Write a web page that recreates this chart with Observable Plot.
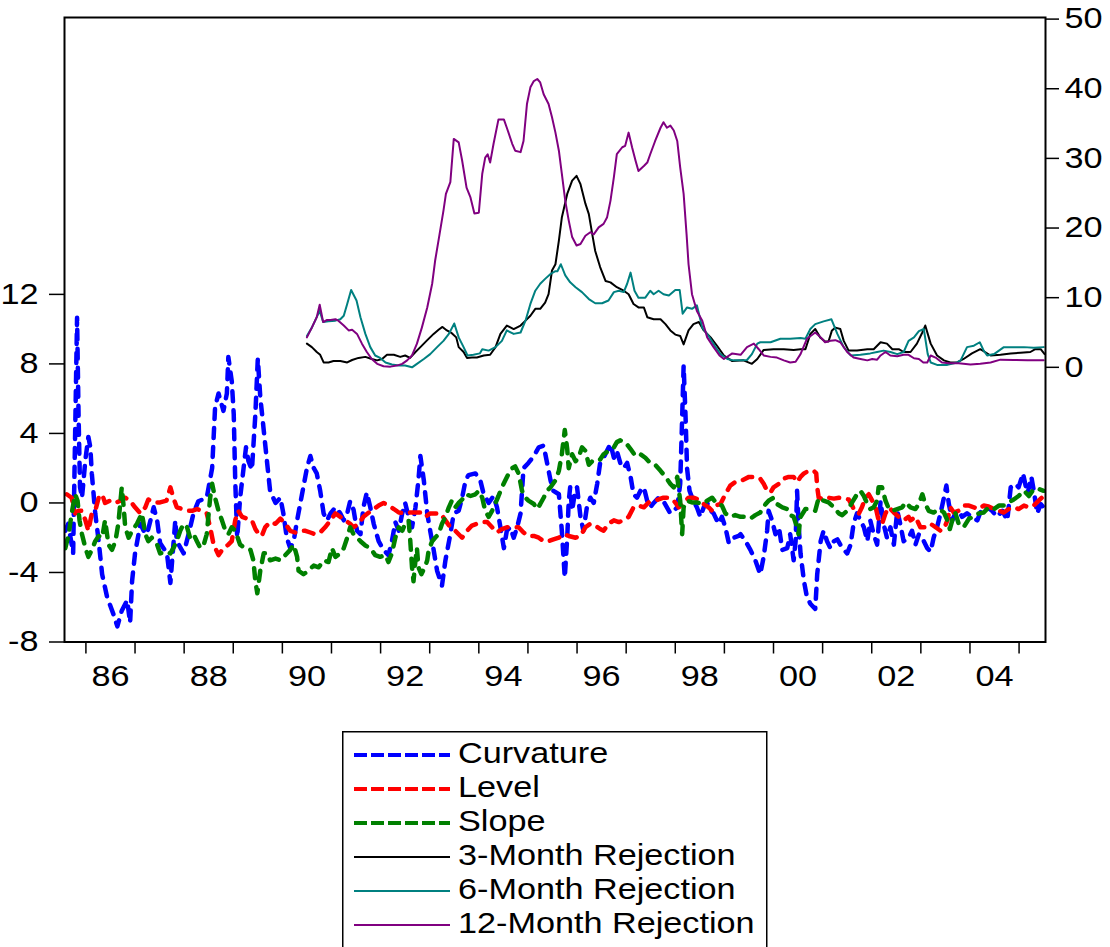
<!DOCTYPE html>
<html>
<head>
<meta charset="utf-8">
<script src="https://cdn.jsdelivr.net/npm/d3@7"></script>
<script src="https://cdn.jsdelivr.net/npm/@observablehq/plot@0.6"></script>
<style>
  html, body { margin: 0; padding: 0; background: #fff; overflow: hidden; }
  #wrap { position: relative; width: 1110px; height: 947px; }
  #legend { position: absolute; left: 342px; top: 731px; }
</style>
</head>
<body>
<div id="wrap"><div id="chart"></div><div id="legend"></div></div>
<script>
// Monthly factor series [decimal year, value], left axis
const curvature = [[1985.58,-1.6],[1985.64,-1.2],[1985.74,-2.9],[1985.76,0.5],[1985.82,10.65],[1985.85,5.1],[1985.88,0.9],[1985.92,0.3],[1985.99,2.5],[1986.05,3.8],[1986.09,3.2],[1986.12,1.7],[1986.19,-0.6],[1986.26,-2.2],[1986.33,-4.1],[1986.43,-5.4],[1986.56,-6.4],[1986.64,-7.1],[1986.73,-6.2],[1986.84,-5.6],[1986.90,-6.9],[1986.94,-4.5],[1987.00,-2.9],[1987.11,-1.2],[1987.21,-1.8],[1987.27,-1.5],[1987.38,-0.25],[1987.45,-1.0],[1987.51,-2.3],[1987.65,-2.9],[1987.72,-4.6],[1987.82,-1.0],[1987.85,-2.2],[1987.99,-2.9],[1988.09,-1.8],[1988.19,-0.6],[1988.29,0.1],[1988.46,0.3],[1988.57,2.0],[1988.63,5.5],[1988.70,6.3],[1988.80,5.3],[1988.87,6.3],[1988.90,8.4],[1988.97,7.0],[1989.01,5.1],[1989.04,1.3],[1989.08,-2.0],[1989.14,0.3],[1989.21,2.0],[1989.26,3.2],[1989.31,2.4],[1989.38,1.9],[1989.45,5.1],[1989.50,8.3],[1989.55,6.1],[1989.62,4.2],[1989.69,2.3],[1989.75,0.7],[1989.86,0.0],[1989.96,0.3],[1990.02,-0.6],[1990.09,-2.0],[1990.16,-2.6],[1990.23,-2.2],[1990.30,-1.0],[1990.40,0.5],[1990.50,2.0],[1990.57,2.7],[1990.64,2.0],[1990.70,1.7],[1990.77,0.7],[1990.84,-0.6],[1990.91,-1.0],[1990.98,-0.6],[1991.08,-0.25],[1991.18,-0.6],[1991.25,-1.0],[1991.32,-0.6],[1991.38,0.1],[1991.45,-0.4],[1991.52,-1.6],[1991.59,-1.8],[1991.65,-0.25],[1991.72,0.6],[1991.79,-0.25],[1991.86,-1.2],[1991.96,-2.2],[1992.06,-2.7],[1992.16,-3.0],[1992.23,-2.2],[1992.30,-1.1],[1992.37,-1.6],[1992.44,-0.6],[1992.50,0.0],[1992.57,-0.8],[1992.64,-1.4],[1992.71,-0.25],[1992.77,1.3],[1992.81,2.7],[1992.88,1.3],[1992.95,-0.6],[1993.01,-1.6],[1993.08,-2.7],[1993.15,-3.9],[1993.25,-4.75],[1993.32,-3.3],[1993.42,-1.8],[1993.49,-0.6],[1993.59,-0.45],[1993.66,0.3],[1993.73,1.3],[1993.79,1.6],[1993.93,1.7],[1994.03,1.3],[1994.10,0.5],[1994.20,0.0],[1994.30,0.4],[1994.37,-0.25],[1994.44,-1.4],[1994.51,-2.6],[1994.57,-1.6],[1994.64,-1.4],[1994.71,-2.0],[1994.78,-1.4],[1994.85,-0.6],[1994.91,2.0],[1995.01,2.3],[1995.12,2.7],[1995.22,3.2],[1995.32,3.3],[1995.39,2.3],[1995.46,1.3],[1995.52,0.7],[1995.63,0.5],[1995.69,-1.6],[1995.75,-4.3],[1995.80,-2.0],[1995.83,0.1],[1995.86,0.9],[1995.90,-0.45],[1995.95,0.5],[1996.00,0.9],[1996.07,-0.8],[1996.13,-1.6],[1996.20,-0.25],[1996.27,0.3],[1996.34,0.0],[1996.41,1.1],[1996.47,2.3],[1996.54,2.6],[1996.61,3.0],[1996.68,3.4],[1996.75,2.6],[1996.81,3.0],[1996.88,2.3],[1996.95,2.0],[1997.02,2.3],[1997.09,1.5],[1997.15,0.5],[1997.22,0.3],[1997.29,0.7],[1997.36,0.9],[1997.43,0.1],[1997.49,-0.25],[1997.56,0.0],[1997.66,0.3],[1997.76,0.1],[1997.83,-0.25],[1997.90,-0.6],[1997.97,-0.45],[1998.04,-0.25],[1998.10,1.1],[1998.14,4.9],[1998.17,7.9],[1998.21,4.9],[1998.24,2.0],[1998.29,0.7],[1998.37,0.1],[1998.44,-0.25],[1998.51,-0.8],[1998.58,-0.25],[1998.65,0.0],[1998.72,-0.45],[1998.78,-0.6],[1998.88,-1.2],[1998.95,-0.8],[1999.02,-1.4],[1999.09,-2.3],[1999.19,-2.0],[1999.29,-1.9],[1999.33,-1.8],[1999.43,-2.2],[1999.53,-2.7],[1999.63,-3.3],[1999.73,-4.1],[1999.80,-3.1],[1999.87,-1.6],[1999.90,-0.45],[1999.97,-1.0],[2000.04,-1.8],[2000.11,-1.4],[2000.18,-2.7],[2000.28,-2.6],[2000.34,-1.8],[2000.41,-3.3],[2000.45,-2.2],[2000.48,0.7],[2000.51,-1.2],[2000.55,-2.9],[2000.62,-4.5],[2000.68,-5.4],[2000.75,-5.8],[2000.85,-6.1],[2000.89,-4.1],[2000.96,-2.2],[2001.02,-1.6],[2001.09,-2.2],[2001.16,-2.6],[2001.23,-2.2],[2001.30,-2.1],[2001.40,-2.6],[2001.50,-2.9],[2001.57,-2.4],[2001.63,-1.2],[2001.70,-0.6],[2001.77,-1.0],[2001.84,-1.4],[2001.91,-2.2],[2001.97,-1.0],[2002.04,-1.8],[2002.11,-2.4],[2002.18,0.1],[2002.24,-1.2],[2002.31,-2.0],[2002.38,-1.4],[2002.45,-2.4],[2002.52,-0.45],[2002.58,-1.2],[2002.65,-2.2],[2002.75,-2.0],[2002.82,-1.6],[2002.89,-2.4],[2002.96,-1.8],[2003.06,-2.2],[2003.13,-2.6],[2003.20,-2.8],[2003.26,-2.0],[2003.33,-1.4],[2003.40,-0.6],[2003.47,0.3],[2003.52,1.0],[2003.57,-0.06],[2003.64,-1.0],[2003.70,-0.6],[2003.77,-0.45],[2003.84,-0.8],[2003.94,-0.6],[2004.04,-0.8],[2004.15,-1.0],[2004.25,-0.25],[2004.35,-0.25],[2004.45,-0.45],[2004.55,-0.8],[2004.66,-0.45],[2004.76,-1.0],[2004.83,0.9],[2004.93,1.1],[2004.99,0.9],[2005.08,1.7],[2005.17,0.5],[2005.25,1.5],[2005.30,0.7],[2005.37,-0.6],[2005.44,-0.06],[2005.50,-0.25]];

const level = [[1985.61,0.5],[1985.71,0.3],[1985.78,-0.6],[1985.85,-0.45],[1985.92,-0.45],[1985.99,-1.0],[1986.05,-1.6],[1986.12,-0.6],[1986.19,-0.45],[1986.26,0.3],[1986.33,0.5],[1986.39,0.0],[1986.49,0.13],[1986.60,0.0],[1986.70,0.13],[1986.80,0.3],[1986.90,0.13],[1987.00,-0.25],[1987.11,-0.6],[1987.21,-0.25],[1987.27,0.2],[1987.38,0.03],[1987.51,0.03],[1987.64,0.13],[1987.72,0.9],[1987.78,0.3],[1987.85,-0.25],[1987.96,-0.35],[1988.06,-0.45],[1988.16,-0.45],[1988.26,-0.35],[1988.36,-0.45],[1988.46,-0.6],[1988.53,-1.4],[1988.60,-2.4],[1988.70,-3.0],[1988.80,-2.6],[1988.90,-2.4],[1988.97,-2.2],[1989.04,-1.0],[1989.10,-0.45],[1989.18,-0.8],[1989.28,-0.9],[1989.38,-1.0],[1989.45,-1.5],[1989.52,-1.8],[1989.58,-1.9],[1989.65,-1.4],[1989.75,-1.1],[1989.86,-1.2],[1989.96,-0.9],[1990.06,-1.2],[1990.16,-1.6],[1990.26,-1.7],[1990.37,-1.6],[1990.47,-1.6],[1990.57,-1.7],[1990.67,-1.8],[1990.77,-1.7],[1990.87,-1.4],[1990.98,-1.0],[1991.08,-0.6],[1991.18,-0.8],[1991.28,-1.0],[1991.38,-1.2],[1991.45,-1.4],[1991.55,-1.2],[1991.65,-0.8],[1991.76,-0.55],[1991.86,-0.35],[1991.96,-0.15],[1992.06,0.0],[1992.16,-0.15],[1992.27,-0.35],[1992.37,-0.55],[1992.50,-0.6],[1992.60,-0.55],[1992.71,-0.55],[1992.81,-0.55],[1992.91,-0.8],[1993.01,-0.6],[1993.11,-0.6],[1993.22,-0.6],[1993.32,-1.0],[1993.42,-1.4],[1993.52,-1.6],[1993.66,-2.0],[1993.76,-1.6],[1993.86,-1.3],[1993.96,-1.2],[1994.07,-1.1],[1994.17,-1.1],[1994.27,-1.4],[1994.37,-1.7],[1994.47,-1.5],[1994.57,-1.4],[1994.71,-1.4],[1994.81,-1.4],[1994.91,-1.7],[1995.01,-1.9],[1995.12,-1.9],[1995.22,-2.0],[1995.32,-2.2],[1995.42,-2.2],[1995.52,-2.1],[1995.63,-2.0],[1995.73,-1.8],[1995.83,-1.9],[1995.97,-2.0],[1996.07,-1.9],[1996.17,-1.4],[1996.27,-1.2],[1996.37,-1.3],[1996.47,-1.5],[1996.54,-1.6],[1996.64,-1.2],[1996.75,-1.0],[1996.85,-1.1],[1996.95,-1.0],[1997.05,-0.8],[1997.15,-0.25],[1997.25,-0.15],[1997.36,-0.25],[1997.46,0.03],[1997.56,0.13],[1997.66,0.2],[1997.76,0.3],[1997.87,0.3],[1997.97,0.13],[1998.07,-0.25],[1998.17,0.03],[1998.27,0.3],[1998.37,0.3],[1998.48,0.2],[1998.58,-0.06],[1998.68,-0.25],[1998.75,-0.45],[1998.82,-0.15],[1998.92,-0.06],[1999.02,0.5],[1999.12,1.0],[1999.22,1.2],[1999.36,1.3],[1999.50,1.5],[1999.63,1.5],[1999.73,1.4],[1999.80,1.1],[1999.87,0.7],[1999.94,0.6],[2000.00,0.9],[2000.11,1.1],[2000.21,1.4],[2000.31,1.5],[2000.41,1.5],[2000.48,1.2],[2000.55,1.5],[2000.62,1.7],[2000.72,1.85],[2000.82,1.85],[2000.87,1.7],[2000.89,0.9],[2000.92,0.3],[2001.02,0.2],[2001.12,0.3],[2001.23,0.25],[2001.33,0.3],[2001.43,0.25],[2001.53,0.2],[2001.60,-0.15],[2001.67,-0.55],[2001.74,-0.6],[2001.80,-0.25],[2001.87,0.3],[2001.94,0.5],[2002.01,0.13],[2002.08,-0.25],[2002.14,-1.0],[2002.21,-1.2],[2002.28,-0.6],[2002.35,-0.25],[2002.45,-0.55],[2002.55,-0.8],[2002.65,-1.0],[2002.75,-0.8],[2002.79,-1.0],[2002.89,-0.8],[2002.99,-1.4],[2003.09,-1.4],[2003.20,-1.2],[2003.30,-1.4],[2003.40,-1.6],[2003.47,-1.5],[2003.54,-1.0],[2003.60,-0.25],[2003.67,-0.55],[2003.77,-0.45],[2003.87,-0.15],[2003.98,-0.15],[2004.08,-0.25],[2004.18,-0.35],[2004.28,-0.15],[2004.38,-0.2],[2004.49,-0.35],[2004.59,-0.45],[2004.69,-0.55],[2004.79,-0.35],[2004.89,-0.25],[2004.99,-0.35],[2005.10,-0.15],[2005.20,-0.25],[2005.30,-0.15],[2005.40,0.13],[2005.50,0.4]];

const slope = [[1985.58,-2.6],[1985.65,-1.8],[1985.71,-0.6],[1985.78,0.5],[1985.83,0.13],[1985.87,-1.0],[1985.92,-1.8],[1985.99,-2.6],[1986.05,-3.1],[1986.12,-2.7],[1986.19,-2.2],[1986.26,-1.9],[1986.33,-2.0],[1986.39,-1.0],[1986.46,-2.4],[1986.53,-2.7],[1986.60,-2.2],[1986.66,-1.2],[1986.73,0.9],[1986.77,-0.25],[1986.80,-1.4],[1986.87,-2.0],[1986.94,-1.6],[1987.04,-1.2],[1987.14,-0.6],[1987.21,-1.8],[1987.27,-2.2],[1987.34,-2.0],[1987.45,-2.4],[1987.51,-2.9],[1987.62,-2.8],[1987.72,-2.9],[1987.78,-2.6],[1987.85,-2.2],[1987.92,-1.6],[1987.99,-1.2],[1988.06,-1.4],[1988.12,-2.0],[1988.19,-1.8],[1988.26,-2.2],[1988.33,-2.6],[1988.40,-2.4],[1988.46,-1.8],[1988.53,0.3],[1988.57,1.1],[1988.63,0.3],[1988.70,-0.45],[1988.77,-1.0],[1988.84,-1.6],[1988.90,-1.8],[1988.97,-1.4],[1989.04,-1.6],[1989.14,-2.4],[1989.24,-2.6],[1989.35,-2.7],[1989.41,-3.3],[1989.45,-4.5],[1989.49,-5.2],[1989.55,-3.9],[1989.62,-2.9],[1989.69,-2.9],[1989.75,-3.3],[1989.86,-3.2],[1989.96,-3.3],[1990.06,-3.0],[1990.16,-2.7],[1990.23,-2.4],[1990.30,-3.1],[1990.33,-3.9],[1990.43,-4.1],[1990.53,-3.9],[1990.64,-3.6],[1990.74,-3.7],[1990.84,-3.3],[1990.94,-3.4],[1991.01,-2.6],[1991.08,-3.1],[1991.18,-2.9],[1991.25,-2.6],[1991.32,-2.0],[1991.38,-1.4],[1991.45,-1.8],[1991.52,-2.0],[1991.59,-2.2],[1991.69,-2.45],[1991.79,-2.6],[1991.89,-3.0],[1991.99,-3.1],[1992.10,-3.0],[1992.16,-3.4],[1992.23,-2.9],[1992.30,-2.0],[1992.37,-1.4],[1992.44,-1.6],[1992.50,-1.2],[1992.57,-1.0],[1992.60,-2.0],[1992.64,-3.7],[1992.67,-4.5],[1992.71,-3.3],[1992.74,-2.6],[1992.77,-3.7],[1992.83,-4.1],[1992.90,-3.7],[1992.95,-3.3],[1992.98,-2.7],[1993.05,-2.2],[1993.11,-2.0],[1993.18,-1.8],[1993.25,-1.2],[1993.32,-0.8],[1993.39,-0.25],[1993.45,0.13],[1993.52,-0.25],[1993.59,0.0],[1993.66,0.2],[1993.73,0.5],[1993.83,0.4],[1993.93,0.5],[1994.00,0.7],[1994.07,0.3],[1994.13,-0.45],[1994.20,-0.8],[1994.27,-0.45],[1994.34,0.0],[1994.40,0.4],[1994.47,0.9],[1994.54,1.3],[1994.61,1.7],[1994.68,2.0],[1994.74,2.1],[1994.81,1.7],[1994.88,0.7],[1994.95,0.3],[1995.01,0.13],[1995.12,-0.06],[1995.19,-0.35],[1995.25,-0.06],[1995.32,0.3],[1995.39,0.7],[1995.46,0.9],[1995.56,1.3],[1995.63,1.85],[1995.69,2.8],[1995.75,4.2],[1995.80,3.1],[1995.83,2.0],[1995.90,2.8],[1995.97,2.4],[1996.03,2.6],[1996.10,3.2],[1996.17,3.0],[1996.24,2.2],[1996.31,2.4],[1996.41,2.4],[1996.47,2.5],[1996.54,2.8],[1996.64,3.0],[1996.75,3.2],[1996.81,3.5],[1996.88,3.6],[1996.98,3.5],[1997.09,3.1],[1997.19,2.7],[1997.29,2.8],[1997.39,2.6],[1997.49,2.3],[1997.59,2.2],[1997.70,1.85],[1997.80,1.5],[1997.90,1.1],[1997.97,0.9],[1998.04,1.5],[1998.10,0.13],[1998.14,-1.8],[1998.17,-0.25],[1998.24,0.13],[1998.34,0.03],[1998.44,0.03],[1998.55,-0.06],[1998.65,0.13],[1998.75,0.3],[1998.85,-0.06],[1998.95,-0.15],[1999.02,-0.6],[1999.12,-0.8],[1999.22,-0.7],[1999.33,-0.8],[1999.43,-0.8],[1999.53,-0.9],[1999.63,-0.7],[1999.73,-0.55],[1999.84,-0.06],[1999.90,0.13],[2000.00,0.3],[2000.07,-0.06],[2000.18,-0.25],[2000.28,-0.35],[2000.34,-0.7],[2000.41,-0.8],[2000.48,-1.4],[2000.51,-1.8],[2000.55,-0.8],[2000.65,-0.35],[2000.75,-0.35],[2000.85,-0.45],[2000.92,0.3],[2001.02,0.13],[2001.12,0.03],[2001.23,-0.25],[2001.33,-0.6],[2001.40,-0.7],[2001.50,-0.45],[2001.60,0.03],[2001.70,0.5],[2001.77,0.7],[2001.84,0.4],[2001.91,-0.06],[2001.97,-0.35],[2002.04,-0.25],[2002.11,0.13],[2002.14,0.9],[2002.21,0.9],[2002.28,0.13],[2002.35,-0.35],[2002.42,-0.45],[2002.52,-0.35],[2002.62,-0.25],[2002.69,0.03],[2002.79,-0.25],[2002.89,-0.35],[2002.96,-0.06],[2003.03,0.5],[2003.09,-0.06],[2003.16,-0.45],[2003.26,-0.55],[2003.37,-0.35],[2003.47,-0.55],[2003.54,-1.0],[2003.59,-1.5],[2003.64,-1.0],[2003.70,-0.55],[2003.77,-1.2],[2003.87,-1.4],[2003.98,-0.9],[2004.08,-0.8],[2004.18,-0.6],[2004.28,-0.55],[2004.38,-0.25],[2004.49,-0.35],[2004.59,-0.15],[2004.69,-0.15],[2004.79,0.03],[2004.89,0.2],[2004.99,0.4],[2005.10,0.7],[2005.20,0.4],[2005.30,0.8],[2005.40,0.8],[2005.50,0.7]];

// Rejection frequencies [decimal year, value], right axis
const rej3 = [[1990.50,3.4],[1990.60,2.9],[1990.70,2.2],[1990.77,1.8],[1990.84,0.7],[1990.94,0.7],[1991.04,0.9],[1991.18,0.9],[1991.32,0.7],[1991.42,1.05],[1991.55,1.35],[1991.69,1.5],[1991.82,1.2],[1991.93,1.0],[1992.03,1.2],[1992.13,1.8],[1992.27,1.8],[1992.40,1.5],[1992.50,1.7],[1992.60,1.35],[1992.71,2.2],[1992.81,2.9],[1992.95,3.9],[1993.08,4.8],[1993.18,5.4],[1993.26,5.8],[1993.35,5.3],[1993.45,4.9],[1993.54,4.3],[1993.59,2.9],[1993.69,2.2],[1993.76,1.35],[1993.86,1.4],[1993.96,1.4],[1994.10,1.7],[1994.23,1.8],[1994.34,2.9],[1994.44,4.8],[1994.57,6.0],[1994.71,5.5],[1994.85,6.0],[1994.95,6.7],[1995.05,7.4],[1995.15,8.4],[1995.25,8.4],[1995.35,9.3],[1995.42,10.5],[1995.49,13.9],[1995.56,14.8],[1995.63,18.2],[1995.69,21.5],[1995.80,24.9],[1995.90,26.8],[1995.99,27.5],[1996.07,26.3],[1996.17,23.5],[1996.24,22.0],[1996.31,19.1],[1996.37,16.7],[1996.47,14.4],[1996.58,12.4],[1996.68,12.2],[1996.81,11.5],[1996.95,11.0],[1997.05,10.5],[1997.15,9.1],[1997.25,8.6],[1997.36,8.6],[1997.43,7.2],[1997.56,6.9],[1997.70,6.9],[1997.80,6.2],[1997.90,5.3],[1998.00,4.7],[1998.10,4.5],[1998.17,3.3],[1998.27,5.3],[1998.37,6.2],[1998.48,6.5],[1998.58,5.3],[1998.72,4.3],[1998.85,3.1],[1998.99,1.7],[1999.16,0.9],[1999.39,1.0],[1999.56,0.5],[1999.67,1.2],[1999.80,2.5],[2000.00,2.6],[2000.21,2.6],[2000.41,2.5],[2000.55,2.6],[2000.65,2.6],[2000.75,4.8],[2000.85,5.5],[2000.95,4.3],[2001.05,3.7],[2001.12,3.7],[2001.19,5.3],[2001.26,5.7],[2001.36,5.5],[2001.43,3.8],[2001.53,2.4],[2001.70,2.4],[2001.91,2.6],[2002.04,2.6],[2002.18,3.6],[2002.31,3.4],[2002.42,2.6],[2002.55,2.6],[2002.65,2.2],[2002.79,2.2],[2002.92,3.4],[2003.03,5.0],[2003.09,6.0],[2003.20,3.4],[2003.33,1.7],[2003.47,1.0],[2003.60,0.7],[2003.74,0.7],[2003.87,1.2],[2004.04,2.0],[2004.21,2.6],[2004.42,1.7],[2004.62,1.8],[2004.83,2.0],[2005.03,2.1],[2005.23,2.2],[2005.33,2.6],[2005.44,2.6],[2005.52,1.9]];

const rej6 = [[1990.50,4.5],[1990.60,5.7],[1990.70,7.2],[1990.76,8.1],[1990.83,6.5],[1990.94,6.6],[1991.08,6.7],[1991.18,6.9],[1991.25,7.4],[1991.32,9.1],[1991.40,11.1],[1991.51,9.6],[1991.59,7.2],[1991.69,4.8],[1991.79,2.9],[1991.89,1.7],[1991.99,1.35],[1992.10,0.7],[1992.23,0.4],[1992.37,0.25],[1992.50,0.25],[1992.64,0.0],[1992.74,0.5],[1992.88,1.2],[1993.01,1.9],[1993.15,2.9],[1993.28,3.8],[1993.39,4.8],[1993.50,6.3],[1993.59,4.3],[1993.69,2.9],[1993.77,1.7],[1993.89,1.8],[1994.02,2.0],[1994.07,2.6],[1994.20,2.4],[1994.34,2.9],[1994.47,3.8],[1994.57,5.3],[1994.71,4.8],[1994.85,5.0],[1994.95,6.7],[1995.05,9.1],[1995.15,11.0],[1995.25,12.0],[1995.35,12.7],[1995.46,13.4],[1995.56,13.8],[1995.60,13.8],[1995.67,14.8],[1995.76,13.2],[1995.86,12.2],[1995.97,11.5],[1996.10,10.8],[1996.24,9.8],[1996.37,9.2],[1996.51,9.2],[1996.64,9.6],[1996.75,10.8],[1996.85,11.0],[1996.95,10.8],[1997.02,12.0],[1997.09,13.6],[1997.17,11.0],[1997.25,10.0],[1997.39,10.0],[1997.49,11.0],[1997.56,10.5],[1997.66,11.0],[1997.76,10.5],[1997.87,10.3],[1998.00,11.1],[1998.09,11.1],[1998.15,7.7],[1998.24,8.6],[1998.34,8.4],[1998.44,8.9],[1998.55,5.7],[1998.68,4.5],[1998.82,2.9],[1998.92,1.9],[1999.06,1.2],[1999.19,1.0],[1999.33,1.0],[1999.46,1.05],[1999.56,1.9],[1999.67,3.4],[1999.73,3.6],[1999.94,3.6],[2000.14,4.1],[2000.34,4.1],[2000.55,4.2],[2000.65,4.1],[2000.75,5.5],[2000.85,6.2],[2001.02,6.6],[2001.18,6.9],[2001.30,4.8],[2001.43,2.9],[2001.57,1.7],[2001.77,1.8],[2001.97,2.0],[2002.11,2.2],[2002.24,2.4],[2002.38,2.2],[2002.52,1.9],[2002.65,2.2],[2002.75,3.8],[2002.86,4.3],[2002.96,5.2],[2003.06,5.5],[2003.14,1.9],[2003.20,0.7],[2003.33,0.35],[2003.54,0.35],[2003.74,0.7],[2003.81,1.0],[2003.94,2.9],[2004.08,3.1],[2004.20,3.6],[2004.28,2.4],[2004.35,1.7],[2004.49,1.9],[2004.69,2.9],[2004.89,2.9],[2005.10,2.9],[2005.30,2.8],[2005.50,2.9]];

const rej12 = [[1990.50,4.3],[1990.60,5.7],[1990.70,7.2],[1990.76,9.0],[1990.83,6.5],[1990.91,6.8],[1990.98,6.8],[1991.08,6.9],[1991.14,6.7],[1991.25,6.0],[1991.35,5.3],[1991.42,5.4],[1991.52,4.8],[1991.62,3.4],[1991.72,2.2],[1991.82,1.2],[1991.93,0.5],[1992.06,0.15],[1992.20,0.1],[1992.33,0.25],[1992.44,0.5],[1992.54,1.0],[1992.64,1.7],[1992.74,3.4],[1992.84,5.7],[1992.95,8.6],[1993.05,12.0],[1993.11,15.3],[1993.20,19.1],[1993.28,22.5],[1993.33,24.9],[1993.42,26.6],[1993.49,32.8],[1993.59,32.3],[1993.66,29.7],[1993.75,25.8],[1993.83,24.4],[1993.91,22.1],[1994.00,22.2],[1994.07,27.8],[1994.13,30.1],[1994.18,30.6],[1994.23,29.4],[1994.30,32.1],[1994.40,35.6],[1994.51,35.6],[1994.57,34.4],[1994.68,32.1],[1994.74,31.1],[1994.85,30.9],[1994.91,32.5],[1994.98,37.8],[1995.05,40.2],[1995.12,41.1],[1995.19,41.4],[1995.25,40.9],[1995.32,39.2],[1995.42,37.8],[1995.49,35.9],[1995.56,33.7],[1995.63,31.1],[1995.69,27.8],[1995.76,23.9],[1995.83,21.1],[1995.90,18.7],[1995.99,17.5],[1996.07,17.7],[1996.17,18.9],[1996.27,19.4],[1996.34,19.1],[1996.44,20.1],[1996.54,20.6],[1996.61,21.5],[1996.68,23.9],[1996.75,27.3],[1996.81,30.6],[1996.92,31.6],[1996.98,31.8],[1997.05,33.7],[1997.12,31.6],[1997.19,29.7],[1997.25,28.2],[1997.36,28.9],[1997.43,29.4],[1997.49,30.6],[1997.59,32.5],[1997.70,34.4],[1997.76,35.2],[1997.83,34.4],[1997.90,34.7],[1997.97,34.0],[1998.04,32.5],[1998.10,28.7],[1998.17,24.9],[1998.23,19.1],[1998.27,14.8],[1998.34,10.5],[1998.44,8.1],[1998.55,6.7],[1998.65,4.3],[1998.78,2.9],[1998.90,1.7],[1998.99,1.2],[1999.16,2.0],[1999.33,1.8],[1999.46,2.9],[1999.60,3.4],[1999.70,2.6],[1999.80,1.7],[1999.94,1.5],[2000.07,1.4],[2000.21,1.0],[2000.34,0.7],[2000.45,0.8],[2000.55,1.9],[2000.68,4.1],[2000.85,5.0],[2000.96,4.3],[2001.05,3.6],[2001.16,3.8],[2001.26,3.9],[2001.36,3.6],[2001.50,2.2],[2001.63,1.4],[2001.77,1.2],[2001.91,1.0],[2002.01,1.2],[2002.11,1.1],[2002.18,1.7],[2002.28,2.2],[2002.38,1.7],[2002.52,1.6],[2002.65,1.8],[2002.75,1.8],[2002.86,1.3],[2002.96,1.2],[2003.05,0.7],[2003.13,0.7],[2003.20,1.7],[2003.30,1.4],[2003.43,0.7],[2003.57,0.6],[2003.77,0.6],[2004.01,0.4],[2004.21,0.5],[2004.42,0.7],[2004.62,1.1],[2004.89,1.05],[2005.17,1.0],[2005.50,1.0]];

const leftTicks = [-8, -4, 0, 4, 8, 12];
const rightTicks = [0, 10, 20, 30, 40, 50];
const yearTicks = d3.range(1986, 2006);
const yearLabels = [1986, 1988, 1990, 1992, 1994, 1996, 1998, 2000, 2002, 2004];
const seriesNames = ["Curvature", "Level", "Slope", "3-Month Rejection", "6-Month Rejection", "12-Month Rejection"];
const seriesColors = ["#0000ff", "#ff0000", "#008000", "#000000", "#008080", "#800080"];

// The two vertical scales share one pixel range; right-axis values are mapped into left units
const leftDomain = [-8, 27.93];
const rightDomain = [-39.44, 50.23];
const kLR = (leftDomain[1] - leftDomain[0]) / (rightDomain[1] - rightDomain[0]);
const toLeft = r => leftDomain[0] + (r - rightDomain[0]) * kLR;
const toRight = v => rightDomain[0] + (v - leftDomain[0]) / kLR;

const FONT = "'Liberation Sans', Arial, Helvetica, sans-serif";
const WIDEN = 1.18;
const DASH = "10,9";

const dashed = (data, color) => Plot.line(data, {
  x: d => d[0], y: d => d[1], stroke: color, strokeWidth: 4.5,
  strokeDasharray: DASH, strokeLinecap: "round", strokeLinejoin: "round", clip: true
});
const solid = (data, color) => Plot.line(data, {
  x: d => d[0], y: d => toLeft(d[1]), stroke: color, strokeWidth: 2,
  strokeLinejoin: "round", clip: true
});

const chart = Plot.plot({
  width: 1110,
  height: 720,
  marginLeft: 64,
  marginRight: 65,
  marginTop: 17,
  marginBottom: 78.5,
  x: {domain: [1985.564, 2005.538]},
  y: {domain: leftDomain},
  style: {fontFamily: FONT, fontSize: "29px", color: "#000", background: "#fff", overflow: "visible"},
  marks: [
    dashed(curvature, seriesColors[0]),
    dashed(level, seriesColors[1]),
    dashed(slope, seriesColors[2]),
    solid(rej3, seriesColors[3]),
    solid(rej6, seriesColors[4]),
    solid(rej12, seriesColors[5]),
    Plot.axisY({ticks: leftTicks, anchor: "left", tickSize: 15, tickPadding: 11,
      tickFormat: d => String(d), label: null, strokeWidth: 1.5}),
    Plot.axisY({ticks: rightTicks.map(toLeft), anchor: "right", tickSize: 13, tickPadding: 6,
      tickFormat: d => String(Math.round(toRight(d))), label: null, strokeWidth: 1.5}),
    Plot.axisX({ticks: yearTicks, tickSize: 12, tickFormat: () => "", label: null, strokeWidth: 1.5}),
    Plot.axisX({ticks: yearLabels.map(y => y + 0.5), tickSize: 0, tickPadding: 23,
      tickFormat: d => String(Math.floor(d) % 100).padStart(2, "0"), label: null}),
    Plot.frame({stroke: "#000", strokeWidth: 2})
  ]
});
document.getElementById("chart").appendChild(chart);

// Widen the tick labels' glyphs in place, keeping each label's anchor
chart.querySelectorAll("text").forEach(t => {
  const w = t.getComputedTextLength();
  if (w > 0) {
    t.setAttribute("textLength", (w * WIDEN).toFixed(2));
    t.setAttribute("lengthAdjust", "spacingAndGlyphs");
  }
});

// Legend box below the chart
const legend = d3.create("svg")
  .attr("width", 428).attr("height", 240)
  .style("display", "block")
  .style("font-family", FONT).style("font-size", "29px");
legend.append("rect")
  .attr("x", 0.75).attr("y", 0.75).attr("width", 424).attr("height", 260)
  .attr("fill", "none").attr("stroke", "#000").attr("stroke-width", 1.5);
seriesNames.forEach((name, i) => {
  const y = 24 + 34 * i;
  const ln = legend.append("line")
    .attr("x1", 12).attr("x2", 108).attr("y1", y).attr("y2", y)
    .attr("stroke", seriesColors[i]);
  if (i < 3) ln.attr("stroke-width", 4).attr("stroke-dasharray", "13,4");
  else ln.attr("stroke-width", 1.8);
  legend.append("text")
    .attr("transform", `translate(116,${y + 7.5}) scale(${WIDEN},1)`)
    .attr("fill", "#000")
    .text(name);
});
document.getElementById("legend").appendChild(legend.node());
</script>
</body>
</html>
